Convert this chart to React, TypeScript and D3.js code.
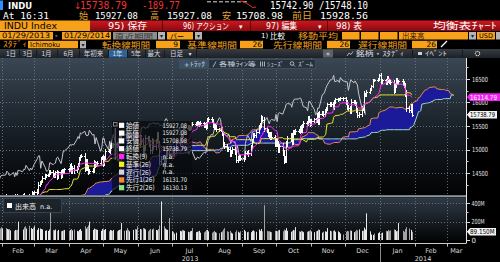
import React from "react";
import * as d3 from "d3";

const SANS = "'DejaVu Sans','Noto Sans CJK JP',sans-serif";
const JP = "'Noto Sans CJK JP','DejaVu Sans',sans-serif";
const MONO = "'DejaVu Sans Mono','Noto Sans CJK JP',monospace";

// ---------------- DATA ----------------
// DJIA daily closes, Oct 15 2012 – Jan 28 2013 (history needed for the Ichimoku lines)
const closesPrior = [
  13424, 13551, 13557, 13548, 13344, 13346, 13103, 13078, 13104, 13108, 13096,
  13233, 13093, 13112, 13246, 12933, 12812, 12815, 12815, 12757, 12571, 12543, 12589, 12796, 12789, 12837, 13010, 12968, 12879, 12985, 13022, 13026,
  12966, 12952, 13035, 13075, 13155, 13170, 13249, 13245, 13170, 13135, 13236, 13351, 13252, 13312, 13191, 13139, 13114, 13096, 12938, 13104,
  13412, 13391, 13435, 13385, 13329, 13390, 13471, 13488, 13507, 13535, 13511, 13596, 13650, 13712, 13779, 13825, 13896, 13882,
];
// Jan 29 2013 – Jun 2013
const closes2013a = [
  13955, 13911, 13861,
  14010, 13880, 13979, 13987, 13944, 13993, 13971, 14019, 14018, 13973, 13982, 14035, 13928, 13881, 14000, 13784, 13900, 14075, 14054,
  14090, 14128, 14254, 14296, 14329, 14397, 14448, 14451, 14456, 14539, 14515, 14453, 14456, 14512, 14421, 14512, 14448, 14560, 14527, 14579,
  14573, 14662, 14550, 14606, 14565, 14614, 14674, 14803, 14865, 14865, 14599, 14757, 14619, 14538, 14548, 14568, 14720, 14677, 14701, 14712, 14819, 14840,
  14700, 14831, 14974, 14969, 15056, 15106, 15083, 15118, 15092, 15215, 15275, 15233, 15354, 15335, 15388, 15307, 15295, 15303, 15409, 15302, 15324, 15116,
  15254, 15177, 14960, 15041, 15248, 15239, 15123, 14996, 15177, 15071, 15180, 15318, 15112, 14758, 14800, 14660, 14760, 14910, 15024, 14910,
];
// Jul – Dec 2013
const closes2013b = [
  14975, 14932, 14988, 15136, 15225, 15300, 15291, 15461, 15464, 15485, 15452, 15471, 15549, 15544, 15545, 15568, 15543, 15556, 15559, 15521, 15520, 15500,
  15628, 15658, 15612, 15519, 15471, 15498, 15426, 15419, 15452, 15337, 15113, 15081, 15010, 15003, 14897, 14964, 15010, 14946, 14776, 14824, 14840, 14810,
  14834, 14931, 14938, 14922, 15064, 15191, 15327, 15301, 15376, 15495, 15530, 15676, 15637, 15452, 15401, 15334, 15273, 15328, 15259, 15130,
  15192, 15133, 14997, 15073, 14936, 14776, 14803, 15127, 15237, 15301, 15168, 15374, 15372, 15399, 15392, 15467, 15413, 15509, 15570, 15569, 15680, 15618, 15546,
  15616, 15639, 15618, 15747, 15594, 15762, 15784, 15751, 15822, 15876, 15962, 15976, 15968, 15900, 16009, 16065, 16073, 16073, 16097, 16086,
  16008, 15915, 15889, 15821, 16020, 16025, 15973, 15844, 15740, 15755, 15885, 15875, 16168, 16179, 16221, 16294, 16358, 16479, 16478, 16505, 16577,
];
// Jan 2014
const closes2014 = [
  16441, 16470, 16426, 16531, 16463, 16445, 16437, 16257, 16373, 16481, 16418, 16459, 16415, 16374, 16198, 15879, 15838, 15928.56, 15738.79,
];

// intraday extension beyond open/close (index points), Jan 29 2013 – Jan 29 2014
const wicks2013a = [
  40, 35, 30,
  30, 45, 35, 30, 25, 20, 20, 25, 20, 25, 20, 25, 40, 45, 35, 60, 50, 45, 30,
  30, 35, 45, 30, 25, 30, 25, 25, 20, 25, 35, 45, 35, 40, 50, 30, 55, 30, 30, 25,
  30, 40, 55, 40, 60, 35, 30, 30, 25, 30, 60, 40, 50, 55, 40, 35, 55, 40, 30, 35, 30, 30,
  50, 35, 40, 30, 35, 30, 40, 30, 35, 35, 30, 40, 35, 35, 60, 70, 45, 50, 60, 55, 45, 60,
  55, 60, 70, 65, 60, 40, 55, 70, 65, 55, 50, 45, 60, 70, 65, 80, 60, 50, 45, 60,
];
const wicks2013b = [
  50, 55, 60, 50, 40, 35, 40, 35, 30, 30, 35, 30, 35, 30, 30, 30, 30, 35, 40, 35, 40, 55,
  50, 30, 35, 40, 45, 35, 30, 30, 35, 35, 45, 40, 40, 35, 45, 35, 35, 35, 50, 45, 40, 40,
  45, 40, 35, 60, 30, 35, 30, 30, 30, 35, 40, 60, 40, 60, 35, 40, 35, 40, 35, 45,
  50, 60, 55, 45, 55, 60, 50, 60, 45, 50, 60, 50, 40, 35, 30, 40, 45, 40, 35, 30, 40, 35, 40,
  35, 30, 35, 40, 45, 50, 30, 35, 35, 30, 35, 30, 35, 40, 35, 30, 30, 25, 30, 25,
  40, 45, 40, 35, 45, 30, 30, 40, 40, 40, 50, 35, 70, 30, 40, 25, 20, 25, 25, 25, 25,
];
const wicks2014 = [45, 35, 40, 35, 30, 30, 35, 45, 40, 35, 30, 30, 35, 40, 50, 60, 50, 45, 30];

// volume (millions), Jan 29 2013 – Jan 29 2014
const vol2013a = [
  120, 125, 140,
  125, 130, 120, 115, 118, 105, 100, 110, 108, 112, 200, 115, 140, 150, 125, 155, 130, 120, 135,
  150, 110, 130, 125, 120, 115, 100, 105, 98, 115, 310, 110, 105, 115, 100, 110, 95, 100, 105, 110,
  100, 110, 120, 105, 115, 100, 95, 110, 120, 100, 150, 125, 140, 160, 200, 110, 125, 120, 115, 110, 100, 120,
  115, 110, 120, 95, 110, 105, 100, 110, 95, 105, 110, 115, 185, 100, 105, 130, 110, 95, 110, 120, 115, 150,
  120, 115, 130, 125, 115, 95, 110, 120, 115, 125, 110, 105, 120, 160, 420, 150, 125, 115, 110, 240,
];
const vol2013b = [
  95, 90, 70, 80, 100, 95, 110, 105, 100, 90, 85, 95, 100, 130, 85, 90, 95, 100, 80, 85, 95, 110,
  110, 95, 80, 90, 100, 85, 80, 75, 85, 95, 115, 130, 95, 90, 100, 80, 70, 85, 105, 90, 80, 95,
  110, 95, 85, 90, 85, 100, 105, 95, 90, 115, 100, 120, 95, 380, 100, 95, 95, 90, 85, 100,
  100, 95, 105, 110, 95, 115, 105, 130, 100, 90, 100, 110, 105, 140, 95, 90, 100, 95, 85, 90, 95, 100, 110,
  90, 85, 95, 100, 115, 110, 80, 90, 95, 90, 130, 100, 95, 100, 105, 90, 95, 85, 70, 60,
  90, 100, 95, 105, 100, 85, 95, 110, 105, 115, 100, 100, 135, 115, 290, 95, 60, 55, 70, 75, 85,
];
const vol2014 = [75, 80, 100, 95, 110, 100, 105, 115, 110, 95, 100, 185, 100, 90, 120, 140, 125, 110, 89.15];

const priceTicks = [14500, 15000, 15500, 16000, 16500];
const volTicks = [0, 200, 400];
const legendLabels = ["始値", "高値", "安値", "終値", "転換(9)", "基準(26)", "遅行(26)", "先行1(26)", "先行2(26)"];
const legendValues = ["15927.08", "15927.08", "15708.98", "15738.79", "n.a.", "n.a.", "n.a.", "16131.70", "16130.13"];
const legendColors = ["#ffffff", "#ffffff", "#ffffff", "#ffffff", "#ff22ff", "#f4f01c", "#d4d4dc", "#ff8a1e", "#8fe28f"];
const tenkanLast = 16114.79;
const lastClose = 15738.79;
const lastVolume = 89.15;
const sparkIntraday = [15928, 15936, 15921, 15895, 15862, 15835, 15800, 15768, 15722, 15746, 15739];

const HOLIDAYS = new Set([
  "2012-10-29", "2012-10-30", "2012-11-22", "2012-12-25", "2013-01-01", "2013-01-21", "2013-02-18",
  "2013-03-29", "2013-05-27", "2013-07-04", "2013-09-02", "2013-11-28", "2013-12-25", "2014-01-01",
  "2014-01-20", "2014-02-17",
]);
const SHIFT = 26;

// ---------------- helpers ----------------
const fmtKey = d3.timeFormat("%Y-%m-%d");
function tradingDays(from: Date, to: Date) {
  return d3.timeDay.range(from, to).filter((d) => {
    const wd = d.getDay();
    return wd !== 0 && wd !== 6 && !HOLIDAYS.has(fmtKey(d));
  });
}

const Txt = ({ x, y, s, size = 7, fill = "#fff", tl, anchor = "start", family = SANS, weight = "normal" }: any) => (
  <text
    x={x}
    y={y}
    fontSize={size}
    fill={fill}
    textAnchor={anchor}
    fontFamily={family}
    fontWeight={weight}
    {...(tl ? { textLength: tl, lengthAdjust: "spacingAndGlyphs" } : {})}
  >
    {s}
  </text>
);

const BOX = "#f7a11a";
const OTXT = "#f0a020";
const GOLD = "#e2a536";

export default function App() {
  const closes = [...closesPrior, ...closes2013a, ...closes2013b, ...closes2014];
  const wicks = [...wicks2013a, ...wicks2013b, ...wicks2014];
  const vols = [...vol2013a, ...vol2013b, ...vol2014];
  const n = closes.length;
  const allDays = tradingDays(new Date(2012, 8, 1), new Date(2014, 3, 30));
  const lastIdx = allDays.findIndex((d) => fmtKey(d) === "2014-01-29");
  const first = lastIdx - n + 1;
  const dates = closes.map((_, i) => allDays[first + i]);
  const future = allDays.slice(lastIdx + 1, lastIdx + 1 + SHIFT);
  const posDate = (p: number) => (p < n ? dates[p] : future[p - n]);

  const opens = closes.map((c, i) => (i > 0 ? closes[i - 1] : c));
  const wk = closes.map((_, i) => {
    const k = i - (n - wicks.length);
    return k >= 0 ? wicks[k] : 0;
  });
  const highs = closes.map((c, i) => Math.max(c, opens[i]) + wk[i]);
  const lows = closes.map((c, i) => Math.min(c, opens[i]) - wk[i]);
  const mid = (i: number, len: number) => {
    if (i < len - 1) return null;
    let hi = -Infinity, lo = Infinity;
    for (let j = i - len + 1; j <= i; j++) {
      hi = Math.max(hi, highs[j]);
      lo = Math.min(lo, lows[j]);
    }
    return (hi + lo) / 2;
  };
  const tenkan = closes.map((_, i) => mid(i, 9));
  const kijun = closes.map((_, i) => mid(i, 26));
  const P = n + SHIFT;
  const spanA: (number | null)[] = new Array(P).fill(null);
  const spanB: (number | null)[] = new Array(P).fill(null);
  const lagging: (number | null)[] = new Array(P).fill(null);
  for (let i = 0; i < n; i++) {
    const t = tenkan[i], k = kijun[i];
    if (t != null && k != null) spanA[i + SHIFT] = (t + k) / 2;
    const b = mid(i, 52);
    if (b != null) spanB[i + SHIFT] = b;
    if (i - SHIFT >= 0) lagging[i - SHIFT] = closes[i];
  }

  // scales
  const xs = d3.scaleTime().domain([new Date(2013, 0, 30), new Date(2014, 2, 18)]).range([0, 466]);
  const ys = d3.scaleLinear().domain([14032, 16968]).range([195, 57]);
  const vy = d3.scaleLinear().domain([0, 400]).range([240, 203.3]);

  const mkLine = (arr: (number | null)[]) =>
    d3
      .line<number>()
      .defined((p) => arr[p] != null)
      .x((p) => xs(posDate(p)))
      .y((p) => ys(arr[p] as number))(d3.range(arr.length)) || "";
  const cloud =
    d3
      .area<number>()
      .defined((p) => spanA[p] != null && spanB[p] != null)
      .x((p) => xs(posDate(p)))
      .y0((p) => ys(spanB[p] as number))
      .y1((p) => ys(spanA[p] as number))(d3.range(P)) || "";

  let barPath = "";
  for (let i = 0; i < n; i++) {
    const xr = xs(dates[i]);
    if (xr < -3 || xr > 468) continue;
    const x = Math.round(xr) + 0.5;
    const yh = Math.round(ys(highs[i]));
    const yl = Math.round(ys(lows[i])) + 1;
    const yo = Math.round(ys(opens[i])) + 0.5;
    const yc = Math.round(ys(closes[i])) + 0.5;
    barPath += `M${x},${yh}V${yl}M${x - 1.5},${yo}H${x - 0.5}M${x + 0.5},${yc}H${x + 1.5}`;
  }

  const volOffset = n - vols.length;
  const volBars = vols.map((v, k) => {
    const i = k + volOffset;
    const x = Math.round(xs(dates[i]));
    const up = closes[i] >= opens[i];
    const top = vy(v);
    return <rect key={k} x={x} y={top} width={1} height={240 - top} fill={up ? "#e8e8e8" : "#a2a2a2"} />;
  });

  const months = d3.timeMonth.range(new Date(2013, 1, 1), new Date(2014, 3, 1));
  const [d0, d1] = xs.domain();
  const monthLabels = months.map((m) => {
    const s = m < d0 ? d0 : m;
    const nx = d3.timeMonth.offset(m, 1);
    const e = nx > d1 ? d1 : nx;
    return { x: (xs(s) + xs(e)) / 2, label: d3.timeFormat("%b")(m) };
  });
  const gridX = months.map((m) => xs(m)).filter((x) => x > 0 && x < 466);
  const yearSplit = xs(new Date(2014, 0, 1));
  const minorTicks = d3.range(14250, 16900, 250);

  const sx = d3.scaleLinear().domain([0, sparkIntraday.length - 1]).range([240, 256]);
  const sy = d3.scaleLinear().domain([15700, 15940]).range([8.5, 1]);
  const sparkPath = d3.line<number>().x((_, i) => sx(i)).y((v) => sy(v))(sparkIntraday) || "";

  const labelPoly = (cy: number, x0: number, x1: number, h: number) =>
    `${x0},${cy} ${x0 + 3},${cy - h / 2} ${x1},${cy - h / 2} ${x1},${cy + h / 2} ${x0 + 3},${cy + h / 2}`;

  const rangeButtons: [string, number][] = [
    ["1日", 11], ["3日", 27.5], ["1月", 46.5], ["6月", 68.5], ["年初来", 93.5], ["1年", 117.5],
    ["5年", 136], ["最大", 154], ["日足", 176.5],
  ];
  const legendY0 = 125.3, legendStep = 7.8;

  return (
    <svg width={500} height={262} style={{ position: "absolute", left: 0, top: 0, display: "block" }} fontFamily={SANS}>
      <defs>
        <linearGradient id="gMain" x1="0" y1="0" x2="0" y2="1">
          <stop offset="0" stopColor="#3a4754" />
          <stop offset="0.5" stopColor="#1a2129" />
          <stop offset="1" stopColor="#020304" />
        </linearGradient>
        <linearGradient id="gVol" x1="0" y1="0" x2="0" y2="1">
          <stop offset="0" stopColor="#2f3a46" />
          <stop offset="1" stopColor="#040506" />
        </linearGradient>
        <linearGradient id="gRed" x1="0" y1="0" x2="0" y2="1">
          <stop offset="0" stopColor="#cc1820" />
          <stop offset="1" stopColor="#8a0a0e" />
        </linearGradient>
        <linearGradient id="gBar" x1="0" y1="0" x2="0" y2="1">
          <stop offset="0" stopColor="#363c43" />
          <stop offset="1" stopColor="#1d2126" />
        </linearGradient>
        <clipPath id="cMain">
          <rect x={0} y={58} width={466} height={137} />
        </clipPath>
        <clipPath id="cVol">
          <rect x={0} y={198} width={466} height={42.5} />
        </clipPath>
      </defs>
      <rect x={0} y={0} width={500} height={262} fill="#000" />

      {/* ---- row 1 ---- */}
      <rect x={0} y={0.5} width={3} height={9.5} fill="#2f8fff" />
      <Txt x={8} y={8.5} s="INDU" size={9.5} weight="bold" tl={24} />
      <Txt x={74} y={9} s="↓" size={9} fill="#f03030" />
      <Txt x={80} y={9} s="15738.79" size={10} fill="#f03232" tl={47} family={MONO} />
      <Txt x={142} y={9} s="-189.77" size={10} fill="#f03232" tl={38} family={MONO} />
      <line x1={207} y1={1.8} x2={248} y2={1.8} stroke="#dcdcdc" strokeDasharray="4,2" strokeWidth={1} />
      <path d={sparkPath} fill="none" stroke="#f03030" strokeWidth={1} />
      <Txt x={270} y={9} s="15742.90 /15748.10" size={10} tl={98} family={MONO} />

      {/* ---- row 2 ---- */}
      <Txt x={3} y={18.5} s="At 16:31" size={9} tl={46} family={MONO} />
      <Txt x={79} y={18.5} s="始" size={9} fill={GOLD} family={JP} />
      <Txt x={95} y={18.5} s="15927.08" size={9} tl={43} family={MONO} />
      <Txt x={150} y={18.5} s="高" size={9} fill={GOLD} family={JP} />
      <Txt x={167} y={18.5} s="15927.08" size={9} tl={45} family={MONO} />
      <Txt x={222} y={18.5} s="安" size={9} fill={GOLD} family={JP} />
      <Txt x={236} y={18.5} s="15708.98" size={9} tl={47} family={MONO} />
      <Txt x={292} y={18.5} s="前日" size={9} fill={GOLD} tl={20} family={JP} />
      <Txt x={320} y={18.5} s="15928.56" size={9} tl={48} family={MONO} />

      {/* ---- row 3 ---- */}
      <rect x={0} y={20.5} width={90} height={10.5} fill={BOX} />
      <Txt x={4} y={29} s="INDU Index" size={9} fill="#000" tl={53} />
      <rect x={90} y={20.5} width={410} height={10.5} fill="url(#gRed)" />
      {[162, 250, 327].map((x) => (
        <line key={x} x1={x + 0.5} y1={20.5} x2={x + 0.5} y2={31} stroke="#5a0508" />
      ))}
      <Txt x={108} y={29} s="95) 保存" size={9} tl={39} />
      <Txt x={183} y={29} s="96) アクション" size={8.5} tl={46} />
      <Txt x={239} y={28.5} s="▾" size={7} />
      <Txt x={266} y={29} s="97) 編集" size={9} tl={31} />
      <Txt x={318} y={28.5} s="▾" size={7} />
      <Txt x={336} y={29} s="98) 表" size={9} tl={26} />
      <Txt x={433} y={29} s="均衡表ﾁｬｰﾄ" size={9} tl={64} family={JP} />

      {/* ---- row 4 ---- */}
      <rect x={0} y={32} width={53} height={7.5} fill={BOX} />
      <Txt x={2} y={38.3} s="01/29/2013" size={7.5} fill="#000" tl={48} />
      <Txt x={55} y={38.3} s="-" size={7.5} />
      <rect x={62} y={32} width={49} height={7.5} fill={BOX} />
      <Txt x={64} y={38.3} s="01/29/2014" size={7.5} fill="#000" tl={46} />
      <rect x={113} y={32} width={44} height={7.5} fill="#8e8e8e" />
      <Txt x={115} y={38.5} s="直近期間" size={7} fill="#3c3c3c" tl={38} family={JP} />
      <rect x={158} y={32} width={7} height={7.5} fill="#b4b4b4" />
      <Txt x={161.5} y={38} s="▾" size={6} fill="#222" anchor="middle" />
      <rect x={167} y={32} width={26} height={7.5} fill={BOX} />
      <Txt x={170} y={38.5} s="バー" size={7} fill="#000" family={JP} />
      <rect x={195} y={32} width={7} height={7.5} fill="#b4b4b4" />
      <Txt x={198.5} y={38} s="▾" size={6} fill="#222" anchor="middle" />
      <Txt x={261} y={38.3} s="1)" size={7} />
      <Txt x={270} y={38.5} s="比較" size={7.5} family={JP} />
      <Txt x={298} y={38.5} s="移動平均" size={7.5} fill={OTXT} tl={40} family={JP} />
      <rect x={342} y={32} width={17.5} height={7.5} fill={BOX} />
      <rect x={361} y={32} width={17.5} height={7.5} fill={BOX} />
      <rect x={380} y={32} width={17.5} height={7.5} fill={BOX} />
      <rect x={399} y={32} width={69} height={7.5} fill={BOX} />
      <Txt x={402} y={38.5} s="出来高" size={7.5} fill="#3a1600" family={JP} />
      <rect x={469} y={32} width={7} height={7.5} fill="#b4b4b4" />
      <Txt x={472.5} y={38} s="▾" size={6} fill="#222" anchor="middle" />
      <rect x={477} y={32} width={18} height={7.5} fill={BOX} />
      <Txt x={479} y={38.3} s="USD" size={6.5} fill="#000" />
      <rect x={496} y={32} width={4} height={7.5} fill="#b4b4b4" />

      {/* ---- row 5 ---- */}
      <Txt x={3} y={47.3} s="ｽﾀﾃﾞｨ" size={7.5} fill={OTXT} tl={24} family={JP} />
      <rect x={28} y={40.8} width={50} height={7.5} fill={BOX} />
      <Txt x={30} y={47} s="Ichimoku" size={7} fill="#000" tl={30} />
      <rect x={80} y={40.8} width={6} height={7.5} fill="#b4b4b4" />
      <Txt x={83} y={46.8} s="▾" size={6} fill="#222" anchor="middle" />
      <Txt x={102} y={47.5} s="転換線期間" size={8} fill={OTXT} tl={48} family={JP} />
      <rect x={156} y={40.8} width={24} height={7.5} fill={BOX} />
      <Txt x={178} y={47.3} s="9" size={7.5} fill="#000" anchor="end" />
      <Txt x={187} y={47.5} s="基準線期間" size={8} fill={OTXT} tl={50} family={JP} />
      <rect x={240} y={40.8} width={23} height={7.5} fill={BOX} />
      <Txt x={262} y={47.3} s="26" size={7.5} fill="#000" anchor="end" />
      <Txt x={273} y={47.5} s="先行線期間" size={8} fill={OTXT} tl={49} family={JP} />
      <rect x={327} y={40.8} width={23} height={7.5} fill={BOX} />
      <Txt x={349} y={47.3} s="26" size={7.5} fill="#000" anchor="end" />
      <Txt x={358} y={47.5} s="遅行線期間" size={8} fill={OTXT} tl={49} family={JP} />
      <rect x={412} y={40.8} width={25} height={7.5} fill={BOX} />
      <Txt x={436} y={47.3} s="26" size={7.5} fill="#000" anchor="end" />
      <line x1={441} y1={47} x2={447} y2={41} stroke="#fff" strokeWidth={1.2} />

      {/* ---- row 6 toolbar ---- */}
      <rect x={0} y={49} width={500} height={9} fill="url(#gBar)" />
      <rect x={108} y={49.5} width={19} height={8} fill="#2f6299" />
      {[19, 36, 57, 79, 108, 127, 145, 164, 196].map((x) => (
        <line key={x} x1={x + 0.5} y1={50} x2={x + 0.5} y2={57.5} stroke="#15181c" />
      ))}
      {rangeButtons.map(([s, cx]) => (
        <Txt key={s} x={cx} y={56} s={s} size={6.5} fill="#d8dce0" anchor="middle" family={JP} />
      ))}
      <Txt x={190} y={55.5} s="▾" size={6} fill="#d8dce0" anchor="middle" />
      <rect x={323} y={49.5} width={10} height={8} fill="#5c6168" />
      <Txt x={328} y={56} s="«" size={7} fill="#e8e8e8" anchor="middle" />
      <path d="M347,56 l2,-3 l2,1.5 l2,-3" fill="none" stroke="#d0d0d0" strokeWidth={0.8} />
      <Txt x={356} y={56} s="銘柄・ｽﾀﾃﾞｨ" size={6.5} fill="#d8dce0" tl={48} family={JP} />
      <line x1={412.5} y1={50} x2={412.5} y2={57.5} stroke="#15181c" />
      <rect x={418} y={52} width={4} height={3} fill="#d0d0d0" />
      <Txt x={425} y={56} s="ｲﾍﾞﾝﾄ" size={6.5} fill="#d8dce0" tl={22} family={JP} />
      <line x1={462.5} y1={50} x2={462.5} y2={57.5} stroke="#15181c" />
      <circle cx={477.5} cy={53.5} r={2.2} fill="none" stroke="#d0d0d0" strokeWidth={1.2} strokeDasharray="1.2,0.6" />

      {/* ---- main chart ---- */}
      <rect x={0} y={58} width={466} height={137} fill="url(#gMain)" />
      <g stroke="#6e7b88" strokeDasharray="1,2" strokeWidth={1} opacity={0.85}>
        {priceTicks.map((t) => (
          <line key={t} x1={0} x2={466} y1={Math.round(ys(t)) + 0.5} y2={Math.round(ys(t)) + 0.5} />
        ))}
        {gridX.map((x) => (
          <line key={x} x1={Math.round(x) + 0.5} x2={Math.round(x) + 0.5} y1={58} y2={195} />
        ))}
      </g>
      <g clipPath="url(#cMain)">
        <path d={cloud} fill="#1b1b9a" />
        <path d={mkLine(spanA)} fill="none" stroke="#e88a4a" strokeWidth={1} />
        <path d={mkLine(spanB)} fill="none" stroke="#9fd6c8" strokeWidth={1} />
        <path d={mkLine(lagging)} fill="none" stroke="#c4c7cc" strokeWidth={1} />
        <path d={barPath} fill="none" stroke="#ffffff" strokeWidth={1} shapeRendering="crispEdges" />
        <path d={mkLine(kijun)} fill="none" stroke="#e6e230" strokeWidth={1} />
        <path d={mkLine(tenkan)} fill="none" stroke="#ff28ff" strokeWidth={1} />
      </g>

      {/* chart toolbar overlay */}
      <rect x={179.5} y={59.5} width={136} height={9} fill="#27323d" stroke="#3f4c59" />
      <rect x={180} y={60} width={29} height={8} fill="#3d5165" />
      <Txt x={184} y={66.5} s="+" size={6.5} fill="#d0d8e0" />
      <Txt x={190} y={66.3} s="ﾄﾗｯｸ" size={6} fill="#d0d8e0" tl={15} family={JP} />
      <line x1={213} y1={67} x2={216} y2={61.5} stroke="#c8d0d8" strokeWidth={0.8} />
      <Txt x={219} y={66.3} s="各種ﾗｲﾝ等" size={6} fill="#c8d0d8" tl={37} family={JP} />
      <path d="M260.5,61.5V66.5M262.5,61.5V66.5M264.5,61.5V66.5" stroke="#c8d0d8" strokeWidth={0.8} />
      <Txt x={267} y={66.3} s="ｼｭｰｽﾞ" size={6} fill="#c8d0d8" tl={17} family={JP} />
      <circle cx={292} cy={63.5} r={1.8} fill="none" stroke="#c8d0d8" strokeWidth={0.8} />
      <line x1={293.3} y1={64.8} x2={295} y2={66.5} stroke="#c8d0d8" strokeWidth={0.8} />
      <Txt x={298} y={66.3} s="ｽﾞｰﾑ" size={6} fill="#c8d0d8" tl={15} family={JP} />

      {/* legend */}
      <rect x={112} y={121} width={80} height={74} fill="#080b0f" opacity={0.72} />
      <rect x={113.5} y={122.5} width={3.5} height={3.5} fill="none" stroke="#9a9a9a" strokeWidth={0.8} />
      <line x1={115.2} y1={128} x2={115.2} y2={160} stroke="#6a6f75" strokeWidth={1} />
      {legendLabels.map((lab, i) => {
        const cy = legendY0 + i * legendStep;
        const isNum = /\d{5}/.test(legendValues[i]);
        return (
          <g key={lab}>
            <rect x={119} y={cy - 2.6} width={5.2} height={5.2} fill={legendColors[i]} />
            <Txt x={126} y={cy + 2.5} s={lab} size={6.6} fill="#f0f0f0" family={JP} />
            <Txt x={162.5} y={cy + 2.3} s={legendValues[i]} size={6.3} fill="#f0f0f0" tl={isNum ? 24.5 : undefined} />
          </g>
        );
      })}

      {/* panel separator */}
      <rect x={0} y={195.2} width={466} height={2} fill="#8c949c" />

      {/* ---- volume panel ---- */}
      <rect x={0} y={197.5} width={466} height={43} fill="url(#gVol)" />
      <g stroke="#6e7b88" strokeDasharray="1,2" strokeWidth={1} opacity={0.85}>
        {[200, 400].map((t) => (
          <line key={t} x1={0} x2={466} y1={Math.round(vy(t)) + 0.5} y2={Math.round(vy(t)) + 0.5} />
        ))}
        {gridX.map((x) => (
          <line key={x} x1={Math.round(x) + 0.5} x2={Math.round(x) + 0.5} y1={198} y2={241} />
        ))}
      </g>
      <g clipPath="url(#cVol)">{volBars}</g>
      <rect x={3.5} y={198.5} width={58} height={14} fill="#1b2229" opacity={0.9} stroke="#3a444e" />
      <rect x={7} y={203} width={5} height={5} fill="#fff" />
      <Txt x={15} y={208.8} s="出来高" size={7} fill="#f0f0f0" family={JP} />
      <Txt x={40} y={208.5} s="n.a." size={6.5} fill="#f0f0f0" />

      {/* ---- axes ---- */}
      <line x1={466.5} y1={58} x2={466.5} y2={243.5} stroke="#e8e8e8" strokeWidth={1} />
      <line x1={0} y1={243.5} x2={466} y2={243.5} stroke="#c8c8c8" strokeWidth={1} />
      {minorTicks.map((t) => (
        <line key={t} x1={466} x2={t % 500 === 0 ? 470 : 468.5} y1={Math.round(ys(t)) + 0.5} y2={Math.round(ys(t)) + 0.5} stroke="#d8d8d8" />
      ))}
      {priceTicks.map((t) => (
        <Txt key={t} x={472} y={ys(t) + 2.6} s={String(t)} size={7} fill="#e6e6e6" tl={16} />
      ))}
      {d3.range(0, 401, 100).map((t) => (
        <line key={t} x1={466} x2={t % 200 === 0 ? 470 : 468.5} y1={Math.round(vy(t)) + 0.5} y2={Math.round(vy(t)) + 0.5} stroke="#d8d8d8" />
      ))}
      {volTicks.map((t) => (
        <Txt key={t} x={471.5} y={vy(t) + 2.6} s={t === 0 ? "0" : `${t}M`} size={7} fill="#e6e6e6" tl={t === 0 ? undefined : 13} />
      ))}

      {/* last value labels */}
      <polygon points={labelPoly(ys(tenkanLast), 467, 500, 7.6)} fill="#f020f0" />
      <Txt x={470} y={ys(tenkanLast) + 2.5} s={tenkanLast.toFixed(2)} size={6.8} fill="#fff" tl={27} />
      <polygon points={labelPoly(ys(lastClose), 467, 497, 7.6)} fill="#f4f4f4" />
      <Txt x={470} y={ys(lastClose) + 2.5} s={lastClose.toFixed(2)} size={6.8} fill="#000" tl={25} />
      <polygon points={labelPoly(vy(lastVolume), 467, 496, 7.6)} fill="#f4f4f4" />
      <Txt x={470} y={vy(lastVolume) + 2.5} s={`${lastVolume.toFixed(3)}M`} size={6.8} fill="#000" tl={24.5} />

      {/* x axis */}
      {gridX.map((x) => (
        <line key={x} x1={Math.round(x) + 0.5} x2={Math.round(x) + 0.5} y1={243.5} y2={246.5} stroke="#c8c8c8" />
      ))}
      {monthLabels.map((m) => (
        <Txt key={m.label + m.x} x={m.x} y={252.5} s={m.label} size={6.5} fill="#d8d8d8" anchor="middle" />
      ))}
      <line x1={Math.round(yearSplit) + 0.5} x2={Math.round(yearSplit) + 0.5} y1={247} y2={262} stroke="#8a8a8a" />
      <Txt x={yearSplit / 2} y={261} s="2013" size={6.5} fill="#d8d8d8" anchor="middle" />
      <Txt x={(yearSplit + 466) / 2} y={261} s="2014" size={6.5} fill="#d8d8d8" anchor="middle" />
    </svg>
  );
}
